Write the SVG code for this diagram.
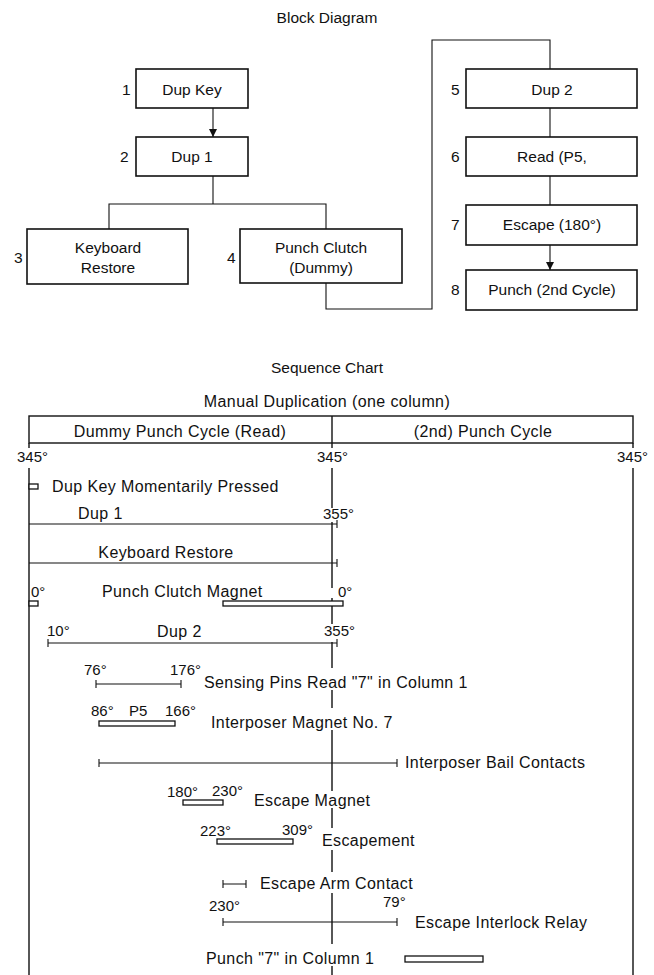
<svg xmlns="http://www.w3.org/2000/svg" width="654" height="975" viewBox="0 0 654 975">
<defs>
<style>
text{font-family:"Liberation Sans","DejaVu Sans",sans-serif;font-size:15.5px;fill:#111}
.c{text-anchor:middle}
.s{font-size:16px;letter-spacing:0.4px}
.box{fill:#fff;stroke:#111;stroke-width:1.6}
.ln{fill:none;stroke:#111;stroke-width:1.1}
.bar{fill:#fff;stroke:#111;stroke-width:1.3}
.axis{fill:none;stroke:#111;stroke-width:1.4}
.deg{font-size:15px}
</style>
<marker id="ah" viewBox="0 0 10 10" refX="10" refY="5" markerWidth="8" markerHeight="10" markerUnits="userSpaceOnUse" orient="auto">
<path d="M0,0 L10,5 L0,10 z" fill="#111"/>
</marker>
</defs>
<rect width="654" height="975" fill="#fff"/>

<text class="c" x="327" y="23">Block Diagram</text>

<g id="connectors">
<line class="ln" x1="213" y1="108" x2="213" y2="137" marker-end="url(#ah)"/>
<polyline class="ln" points="213,176 213,204"/>
<polyline class="ln" points="109,229 109,204 326,204 326,229"/>
<polyline class="ln" points="326,283 326,309 432,309 432,40 550,40 550,69"/>
<line class="ln" x1="550" y1="108" x2="550" y2="137"/>
<line class="ln" x1="550" y1="176" x2="550" y2="205"/>
<line class="ln" x1="550" y1="245" x2="550" y2="270" marker-end="url(#ah)"/>
</g>

<g id="n1"><text x="122" y="95">1</text><rect class="box" x="136" y="69" width="112" height="39"/><text class="c" x="192" y="95">Dup Key</text></g>
<g id="n2"><text x="120" y="162">2</text><rect class="box" x="136" y="137" width="112" height="39"/><text class="c" x="192" y="162">Dup 1</text></g>
<g id="n3"><text x="14" y="263">3</text><rect class="box" x="27" y="229" width="161" height="55"/><text class="c" x="108" y="253">Keyboard</text><text class="c" x="108" y="273">Restore</text></g>
<g id="n4"><text x="227" y="263">4</text><rect class="box" x="240" y="229" width="162" height="54"/><text class="c" x="321" y="253">Punch Clutch</text><text class="c" x="321" y="273">(Dummy)</text></g>
<g id="n5"><text x="451" y="95">5</text><rect class="box" x="466" y="69" width="171" height="39"/><text class="c" x="552" y="95">Dup 2</text></g>
<g id="n6"><text x="451" y="162">6</text><rect class="box" x="466" y="137" width="171" height="39"/><text class="c" x="552" y="162">Read (P5,</text></g>
<g id="n7"><text x="451" y="230">7</text><rect class="box" x="466" y="205" width="171" height="40"/><text class="c" x="552" y="230">Escape (180°)</text></g>
<g id="n8"><text x="451" y="295">8</text><rect class="box" x="466" y="270" width="171" height="40"/><text class="c" x="552" y="295">Punch (2nd Cycle)</text></g>

<text class="c" x="327" y="373">Sequence Chart</text>
<text class="c s" x="327" y="407">Manual Duplication (one column)</text>

<g id="chart-frame">
<rect class="axis" x="29" y="416" width="604" height="27"/>
<line class="axis" x1="332" y1="416" x2="332" y2="443"/>
<text class="c s" x="180" y="437">Dummy Punch Cycle (Read)</text>
<text class="c s" x="483" y="437">(2nd) Punch Cycle</text>
<path class="axis" d="M29,443 V448 M29,468 V975 M633,443 V448 M633,468 V975"/>
<path class="axis" d="M332,443 V448 M332,468 V508 M332,522 V588 M332,598 V624 M332,642 V668 M332,690 V708 M332,730 V791 M332,808 V828 M332,850 V872 M332,893 V944 M332,966 V975"/>
<text class="deg" x="17" y="462">345°</text>
<text class="deg" x="317" y="462">345°</text>
<text class="deg" x="617" y="462">345°</text>
</g>

<g id="row-dupkey"><rect class="bar" x="29" y="484" width="9" height="5"/><text class="s" x="52" y="492">Dup Key Momentarily Pressed</text></g>
<g id="row-dup1"><path class="ln" d="M29,524 H337 M337,520 V528"/><text class="s" x="78" y="519">Dup 1</text><text class="deg" x="323" y="519">355°</text></g>
<g id="row-kbr"><path class="ln" d="M29,563 H337 M337,559 V567"/><text class="c s" x="166" y="558">Keyboard Restore</text></g>
<g id="row-pcm"><text class="deg" x="31" y="597">0°</text><rect class="bar" x="29" y="601" width="9" height="5"/><text class="s" x="102" y="597">Punch Clutch Magnet</text><rect class="bar" x="223" y="601" width="120" height="5"/><text class="deg" x="338" y="597">0°</text></g>
<g id="row-dup2"><path class="ln" d="M48,643 H337 M48,639 V647 M337,639 V647"/><text class="deg" x="47" y="636">10°</text><text class="s" x="157" y="637">Dup 2</text><text class="deg" x="324" y="636">355°</text></g>
<g id="row-sense"><path class="ln" d="M96,684 H181 M96,680 V688 M181,680 V688"/><text class="deg" x="84" y="675">76°</text><text class="deg" x="170" y="675">176°</text><text class="s" x="204" y="688">Sensing Pins Read "7" in Column 1</text></g>
<g id="row-imag"><rect class="bar" x="99" y="721" width="76" height="5"/><text class="deg" x="91" y="716">86°</text><text class="deg" x="129" y="716">P5</text><text class="deg" x="165" y="716">166°</text><text class="s" x="211" y="728">Interposer Magnet No. 7</text></g>
<g id="row-ibc"><path class="ln" d="M99,763 H397 M99,759 V767 M397,759 V767"/><text class="s" x="405" y="768">Interposer Bail Contacts</text></g>
<g id="row-emag"><rect class="bar" x="183" y="800" width="40" height="5"/><text class="deg" x="167" y="797">180°</text><text class="deg" x="212" y="796">230°</text><text class="s" x="254" y="806">Escape Magnet</text></g>
<g id="row-esc"><rect class="bar" x="217" y="839" width="76" height="5"/><text class="deg" x="200" y="836">223°</text><text class="deg" x="282" y="835">309°</text><text class="s" x="322" y="846">Escapement</text></g>
<g id="row-eac"><path class="ln" d="M223,884 H246 M223,880 V888 M246,880 V888"/><text class="s" x="260" y="889">Escape Arm Contact</text></g>
<g id="row-eir"><path class="ln" d="M223,922 H397 M223,918 V926 M397,918 V926"/><text class="deg" x="209" y="911">230°</text><text class="deg" x="383" y="907">79°</text><text class="s" x="415" y="928">Escape Interlock Relay</text></g>
<g id="row-punch"><text class="s" x="206" y="964">Punch "7" in Column 1</text><rect class="bar" x="405" y="956" width="78" height="6"/></g>
</svg>
